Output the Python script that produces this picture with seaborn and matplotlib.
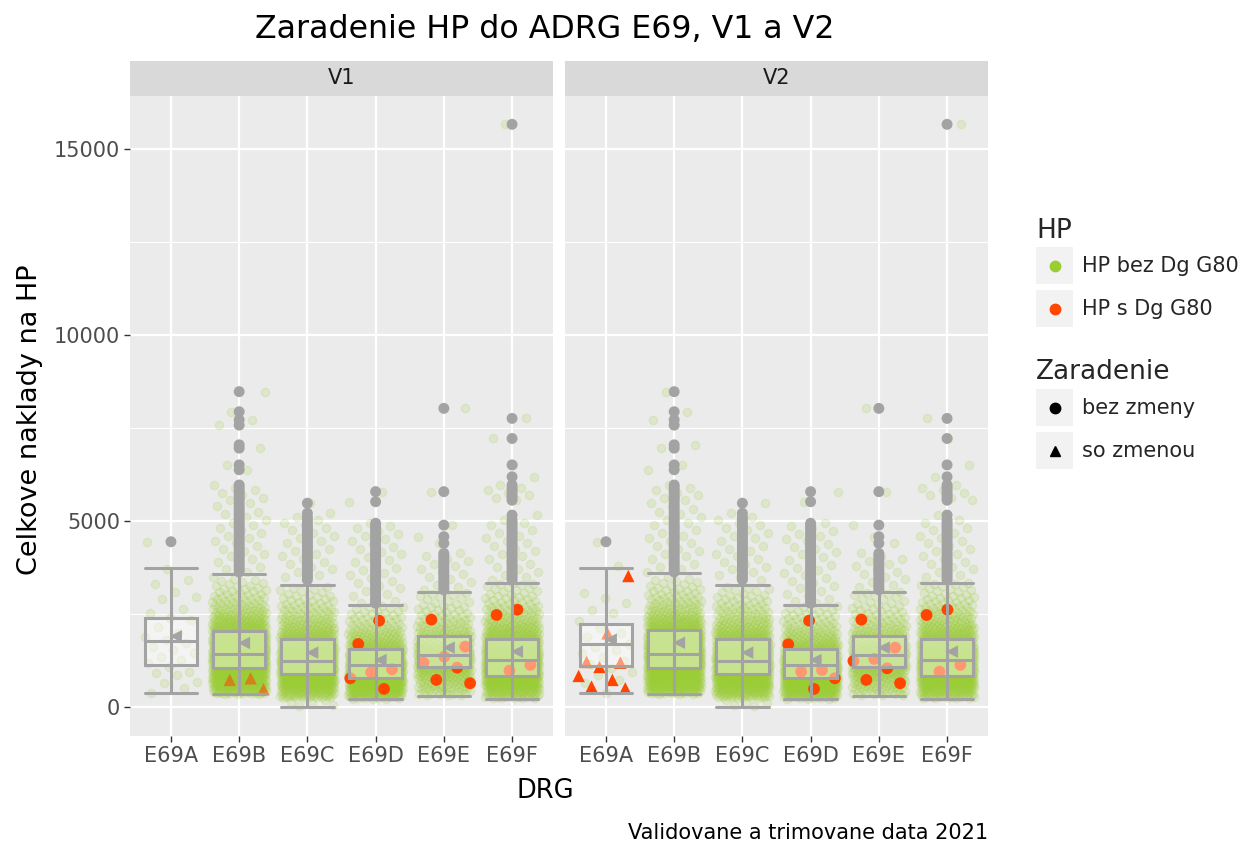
import numpy as np
import pandas as pd
import matplotlib
matplotlib.use("Agg")
import matplotlib.pyplot as plt
import seaborn as sns
from matplotlib.patches import Rectangle
from matplotlib.lines import Line2D

# ---------------- data ----------------
DRG = ["E69A", "E69B", "E69C", "E69D", "E69E", "E69F"]
VERZIE = ["V1", "V2"]

# dense part of each cloud: number of stays per 250-wide cost bin
BIN_LO = [0, 250, 500, 750, 1000, 1250, 1500, 1750, 2000, 2250, 2500, 2750, 3000, 3250]
BIN_W = 250
CNT_B = [0, 40, 90, 100, 120, 130, 110, 95, 70, 50, 30, 20, 13, 8]
CNT_C = [6, 60, 100, 110, 120, 110, 85, 65, 45, 30, 20, 13, 8, 0]
CNT_D = [6, 80, 120, 130, 120, 90, 60, 40, 25, 16, 10, 0, 0, 0]
CNT_E = [0, 20, 35, 50, 70, 75, 60, 40, 28, 18, 12, 8, 4, 0]
CNT_F = [4, 60, 100, 110, 120, 105, 85, 65, 48, 32, 22, 14, 9, 5]

# the small E69A group, individual stays
VAL_A_V1 = [4443, 3701, 3414, 3306, 3083, 2948, 2895, 2626, 2519, 2384, 2338, 2150,
            1981, 1890, 1800, 1712, 1621, 1520, 1443, 1352, 1260, 1175, 1067, 949,
            905, 860, 680, 637, 502, 368]
VAL_A_V2 = [4443, 3798, 3056, 2922, 2787, 2607, 2519, 2300, 2115, 1980, 1890, 1800,
            1702, 1621, 1520, 1443, 1352, 1240, 1150, 1050, 949, 860, 726, 640, 368]

# boxplot outliers (also part of the clouds)
OUT_A = [4443]
OUT_B = [8480, 7940, 7720, 7580, 7050, 6960, 6510, 6380, 5970, 5900, 5830, 5760, 5690,
         5620, 5560, 5480, 5400, 5330, 5250, 5180, 5100, 5030, 4960, 4890, 4820, 4750,
         4680, 4610, 4540, 4470, 4400, 4330, 4260, 4190, 4120, 4050, 3980, 3910, 3840,
         3770, 3700, 3630]
OUT_C = [5480, 5210, 5100, 5030, 4960, 4890, 4820, 4750, 4680, 4610, 4540, 4470, 4400,
         4330, 4260, 4190, 4120, 4050, 3980, 3910, 3840, 3770, 3700, 3630, 3560, 3490, 3420]
OUT_D = [5790, 5520, 4940, 4870, 4800, 4730, 4660, 4590, 4520, 4450, 4380, 4310, 4240,
         4170, 4100, 4030, 3960, 3890, 3820, 3750, 3680, 3610, 3540, 3470, 3400, 3330,
         3260, 3190, 3120, 3050, 2980, 2910, 2840, 2790]
OUT_E = [8030, 5790, 4890, 4580, 4400, 4130, 4060, 3990, 3920, 3850, 3780, 3710, 3640,
         3570, 3500, 3430, 3360, 3290, 3220, 3150]
OUT_F = [15670, 7760, 7220, 6510, 6190, 5970, 5900, 5830, 5760, 5690, 5620, 5560, 5160,
         5030, 4960, 4890, 4820, 4750, 4680, 4610, 4540, 4470, 4400, 4330, 4260, 4190,
         4120, 4050, 3980, 3910, 3840, 3770, 3700, 3630, 3560, 3490, 3420]

# box statistics per DRG: lower whisker, Q1, median, Q3, upper whisker, mean
BOX_V1_LOW = [368, 350, 0, 206, 305, 224]
BOX_V1_Q1 = [1130, 1057, 887, 788, 1075, 833]
BOX_V1_MED = [1783, 1425, 1245, 1129, 1398, 1273]
BOX_V1_Q3 = [2405, 2051, 1837, 1559, 1908, 1837]
BOX_V1_HIGH = [3745, 3584, 3270, 2734, 3091, 3342]
BOX_V1_MEAN = [1900, 1720, 1460, 1263, 1594, 1487]

BOX_V2_LOW = [368, 350, 0, 206, 305, 224]
BOX_V2_Q1 = [1102, 1050, 887, 788, 1075, 833]
BOX_V2_MED = [1698, 1435, 1245, 1129, 1398, 1273]
BOX_V2_Q3 = [2234, 2060, 1837, 1559, 1908, 1837]
BOX_V2_HIGH = [3745, 3600, 3270, 2734, 3091, 3342]
BOX_V2_MEAN = [1810, 1725, 1460, 1263, 1594, 1487]

# stays with Dg G80 (red) and their classification change
RED_V1_DRG = ["E69B", "E69B", "E69B",
              "E69D", "E69D", "E69D", "E69D", "E69D", "E69D",
              "E69E", "E69E", "E69E", "E69E", "E69E", "E69E", "E69E",
              "E69F", "E69F", "E69F", "E69F"]
RED_V1_VAL = [770, 726, 476,
              2320, 1693, 1012, 930, 770, 484,
              2348, 1621, 1352, 1192, 1057, 726, 637,
              2616, 2473, 1129, 976]
RED_V1_ZMENA = ["so zmenou"] * 3 + ["bez zmeny"] * 17

RED_V2_DRG = ["E69A"] * 9 + ["E69D"] * 6 + ["E69E"] * 7 + ["E69F"] * 4
RED_V2_VAL = [3521, 1981, 1210, 1192, 1075, 833, 726, 547, 502,
              2320, 1684, 995, 949, 770, 484,
              2348, 1594, 1290, 1236, 1039, 726, 637,
              2616, 2473, 1129, 949]
RED_V2_ZMENA = ["so zmenou"] * 9 + ["bez zmeny"] * 17

# ---------------- styling ----------------
GREEN = "#9ACD32"
RED = "#FF4500"
GREY = "#A3A3A3"
W, H = 1243, 846

sns.set_theme(style="darkgrid")
plt.rcParams["font.family"] = ["DejaVu Sans"]

fig = plt.figure(figsize=(W / 100, H / 100), dpi=100)
fig.patch.set_facecolor("white")


def fx(px):
    return px / W


def fy(py):
    return 1 - py / H


def expand_bins(counts, lo_clip, hi_clip):
    vals = []
    for lo, n in zip(BIN_LO, counts):
        if n == 0:
            continue
        a = max(lo, lo_clip)
        b = min(lo + BIN_W, hi_clip)
        vals.extend(list(a + (np.arange(n) + 0.5) / n * (b - a)))
    return vals


def jitter(n, seed):
    k = np.arange(n)
    return ((k * 0.6180339887 + seed) % 1.0) * 0.8 - 0.4


dense_counts = {"E69B": CNT_B, "E69C": CNT_C, "E69D": CNT_D, "E69E": CNT_E, "E69F": CNT_F}
outliers = {"E69A": OUT_A, "E69B": OUT_B, "E69C": OUT_C, "E69D": OUT_D,
            "E69E": OUT_E, "E69F": OUT_F}

boxes = {
    "V1": (BOX_V1_LOW, BOX_V1_Q1, BOX_V1_MED, BOX_V1_Q3, BOX_V1_HIGH, BOX_V1_MEAN),
    "V2": (BOX_V2_LOW, BOX_V2_Q1, BOX_V2_MED, BOX_V2_Q3, BOX_V2_HIGH, BOX_V2_MEAN),
}
reds = {
    "V1": (RED_V1_DRG, RED_V1_VAL, RED_V1_ZMENA),
    "V2": (RED_V2_DRG, RED_V2_VAL, RED_V2_ZMENA),
}

panels = {"V1": (130, 553), "V2": (565, 988)}
PANEL_TOP, PANEL_BOT = 96, 736
STRIP_TOP = 61

for vi, ver in enumerate(VERZIE):
    x0, x1 = panels[ver]
    ax = fig.add_axes([fx(x0), fy(PANEL_BOT), fx(x1 - x0), (PANEL_BOT - PANEL_TOP) / H])
    ax.set_facecolor("#EBEBEB")
    low, q1, med, q3, high, mean = boxes[ver]

    # ---- green cloud ----
    rows = []
    for gi, d in enumerate(DRG):
        if d == "E69A":
            vals = sorted(VAL_A_V1 if ver == "V1" else VAL_A_V2)
        else:
            vals = sorted(expand_bins(dense_counts[d], low[gi], high[gi]) + outliers[d])
        jit = jitter(len(vals), 0.13 + 0.37 * vi + 0.11 * gi)
        for v, j in zip(vals, jit):
            rows.append({"pos": gi + 1 + j, "value": v})
    cloud = pd.DataFrame(rows)
    sns.scatterplot(data=cloud, x="pos", y="value", ax=ax, s=36, color=GREEN,
                    alpha=0.16, edgecolor=GREEN, linewidth=1.0, zorder=2, legend=False)

    # ---- red points ----
    rd, rv, rz = reds[ver]
    red_df = pd.DataFrame({"drg": rd, "value": rv, "zmena": rz})
    red_df["pos"] = [DRG.index(d) + 1 for d in red_df["drg"]]
    red_df["pos"] = red_df["pos"] + jitter(len(red_df), 0.71 + 0.2 * vi)
    circ = red_df[red_df["zmena"] == "bez zmeny"]
    tri = red_df[red_df["zmena"] == "so zmenou"]
    sns.scatterplot(data=circ, x="pos", y="value", ax=ax, s=72, color=RED,
                    edgecolor="none", marker="o", zorder=3, legend=False)
    sns.scatterplot(data=tri, x="pos", y="value", ax=ax, s=80, color=RED,
                    alpha=(0.55 if ver == "V1" else 1.0),
                    edgecolor="none", marker="^", zorder=3, legend=False)

    # ---- boxplots ----
    stats = []
    for gi in range(len(DRG)):
        stats.append({"whislo": low[gi], "q1": q1[gi], "med": med[gi], "q3": q3[gi],
                      "whishi": high[gi], "fliers": []})
    line_kw = dict(color=GREY, linewidth=2.2)
    ax.bxp(stats, positions=list(range(1, 7)), widths=0.77, patch_artist=True,
           showfliers=False, manage_ticks=False,
           boxprops=dict(facecolor=(1, 1, 1, 0.45), edgecolor=GREY, linewidth=2.2),
           medianprops=line_kw, whiskerprops=line_kw, capprops=line_kw,
           capwidths=0.77, zorder=4)
    ax.vlines(list(range(1, 7)), q1, q3, colors=GREY, linewidth=2.2, zorder=4)

    # outliers
    orows = []
    for gi, d in enumerate(DRG):
        for v in outliers[d]:
            orows.append({"pos": gi + 1, "value": v})
    odf = pd.DataFrame(orows)
    sns.scatterplot(data=odf, x="pos", y="value", ax=ax, s=62, color=GREY,
                    edgecolor="none", zorder=5, legend=False)
    # means
    mdf = pd.DataFrame({"pos": np.arange(1, 7) + 0.07, "value": mean})
    sns.scatterplot(data=mdf, x="pos", y="value", ax=ax, s=80, color=GREY,
                    marker="<", edgecolor="none", zorder=5, legend=False)

    # ---- axes cosmetics ----
    ax.set_xlim(0.4, 6.6)
    ax.set_ylim(-782, 16432)
    ax.set_yticks([0, 5000, 10000, 15000])
    ax.set_yticks([2500, 7500, 12500], minor=True)
    ax.set_xticks(range(1, 7))
    ax.set_xticklabels(DRG)
    ax.grid(which="major", color="white", linewidth=1.6)
    ax.grid(which="minor", axis="y", color="white", linewidth=0.8)
    ax.set_axisbelow(True)
    for sp in ax.spines.values():
        sp.set_visible(False)
    ax.tick_params(axis="both", which="major", length=4.5, width=1.0, color="#333333",
                   labelsize=15, labelcolor="#4D4D4D", pad=2.5, bottom=True, left=(vi == 0))
    ax.tick_params(axis="both", which="minor", length=0)
    if vi == 1:
        ax.set_yticklabels([])
    ax.set_xlabel("")
    ax.set_ylabel("")

    # strip
    fig.patches.append(Rectangle((fx(x0), fy(PANEL_TOP)), fx(x1 - x0),
                                 (PANEL_TOP - STRIP_TOP) / H, transform=fig.transFigure,
                                 facecolor="#D9D9D9", edgecolor="none"))
    fig.text(fx((x0 + x1) / 2), fy((PANEL_TOP + STRIP_TOP) / 2), ver, ha="center",
             va="center", fontsize=15, color="#1A1A1A")

# titles
fig.text(fx(545), fy(30), "Zaradenie HP do ADRG E69, V1 a V2", ha="center", va="center",
         fontsize=22.8, color="black")
fig.text(fx(545), fy(791), "DRG", ha="center", va="center", fontsize=18.5, color="black")
fig.text(fx(30), fy(420), "Celkove naklady na HP", ha="center", va="center",
         rotation=90, fontsize=19.5, color="black")
fig.text(fx(988), fy(833), "Validovane a trimovane data 2021", ha="right", va="center",
         fontsize=15, color="black")

# legend (ggplot-like)
LEG_X = 1036
KEY = 37


def legend_key(cy, marker, color, size):
    fig.patches.append(Rectangle((fx(LEG_X), fy(cy + KEY / 2)), KEY / W, KEY / H,
                                 transform=fig.transFigure, facecolor="#F2F2F2",
                                 edgecolor="none"))
    fig.lines.append(Line2D([fx(LEG_X + KEY / 2)], [fy(cy)], transform=fig.transFigure,
                            marker=marker, color=color, markersize=size, linestyle="none"))


fig.text(fx(LEG_X), fy(231), "HP", ha="left", va="center", fontsize=19)
legend_key(266, "o", GREEN, 7.5)
fig.text(fx(1082), fy(266), "HP bez Dg G80", ha="left", va="center", fontsize=15)
legend_key(309, "o", RED, 7.5)
fig.text(fx(1082), fy(309), "HP s Dg G80", ha="left", va="center", fontsize=15)

fig.text(fx(LEG_X), fy(372), "Zaradenie", ha="left", va="center", fontsize=19)
legend_key(408, "o", "black", 7.5)
fig.text(fx(1082), fy(408), "bez zmeny", ha="left", va="center", fontsize=15)
legend_key(451, "^", "black", 7.5)
fig.text(fx(1082), fy(451), "so zmenou", ha="left", va="center", fontsize=15)

fig.savefig("out.png", dpi=100, facecolor="white")
